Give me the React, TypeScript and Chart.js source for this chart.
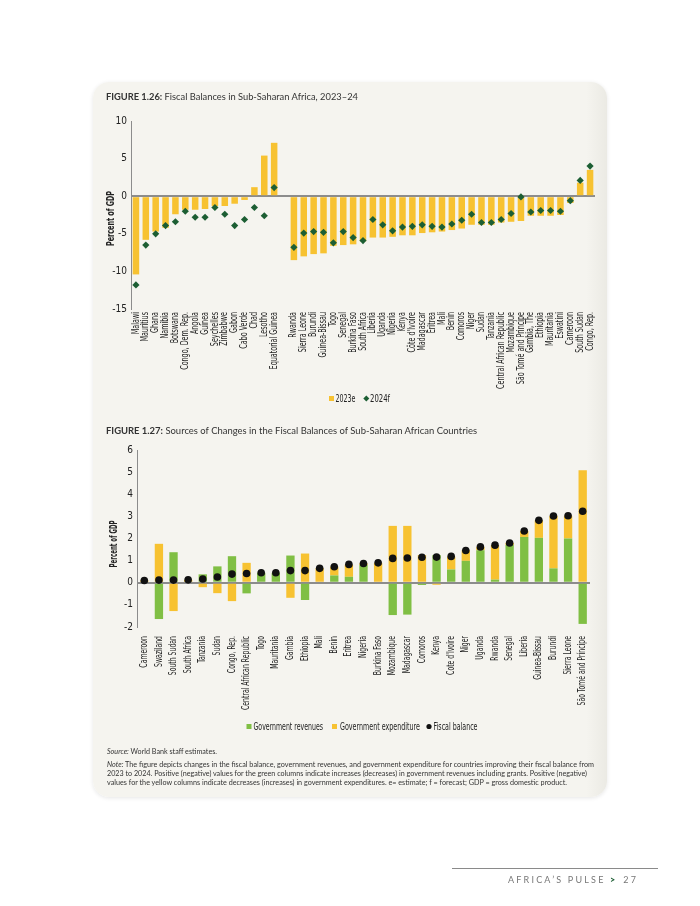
import React, { useEffect, useRef } from "react";
import { Chart, registerables } from "chart.js";

Chart.register(...registerables);

// ---------- Figure 1.26 data ----------
const countries1 = [
  "Malawi", "Mauritius", "Ghana", "Namibia", "Botswana", "Congo, Dem. Rep.", "Angola", "Guinea",
  "Seychelles", "Zimbabwe", "Gabon", "Cabo Verde", "Chad", "Lesotho", "Equatorial Guinea", "",
  "Rwanda", "Sierra Leone", "Burundi", "Guinea-Bissau", "Togo", "Senegal", "Burkina Faso",
  "South Africa", "Liberia", "Uganda", "Nigeria", "Kenya", "Côte d'Ivoire", "Madagascar", "Eritrea",
  "Mali", "Benin", "Comoros", "Niger", "Sudan", "Tanzania", "Central African Republic", "Mozambique",
  "São Tomé and Principe", "Gambia, The", "Ethiopia", "Mauritania", "Eswatini", "Cameroon",
  "South Sudan", "Congo, Rep.",
];
const balance2023e = [
  -10.4, -5.8, -4.7, -4.2, -2.4, -1.8, -1.8, -1.7, -1.3, -1.3, -1.0, -0.5, 1.2, 5.4, 7.1, null,
  -8.5, -8.0, -7.7, -7.6, -6.6, -6.5, -6.4, -6.0, -5.5, -5.5, -5.4, -5.2, -5.2, -4.9, -4.8,
  -4.7, -4.5, -4.3, -3.8, -3.8, -3.8, -3.5, -3.4, -3.3, -2.6, -2.6, -2.6, -2.5, -0.9, 1.8, 3.5,
];
const balance2024f = [
  -11.8, -6.5, -5.0, -3.9, -3.4, -2.0, -2.8, -2.8, -1.5, -2.4, -3.9, -3.1, -1.5, -2.6, 1.15, null,
  -6.8, -4.9, -4.7, -4.8, -6.2, -4.7, -5.5, -5.9, -3.1, -3.8, -4.6, -4.1, -4.0, -3.8, -4.0,
  -4.1, -3.7, -3.2, -2.4, -3.5, -3.5, -3.1, -2.3, -0.1, -2.1, -1.9, -1.9, -2.0, -0.6, 2.1, 4.0,
];
const yTicks1 = { min: -15, max: 10, step: 5 };

// ---------- Figure 1.27 data ----------
const countries2 = [
  "Cameroon", "Swaziland", "South Sudan", "South Africa", "Tanzania", "Sudan", "Congo, Rep.",
  "Central African Republic", "Togo", "Mauritania", "Gambia", "Ethiopia", "Mali", "Benin", "Eritrea",
  "Nigeria", "Burkina Faso", "Mozambique", "Madagascar", "Comoros", "Kenya", "Cote d'Ivoire", "Niger",
  "Uganda", "Rwanda", "Senegal", "Liberia", "Guinea-Bissau", "Burundi", "Sierra Leone",
  "São Tomé and Príncipe",
];
const govRevenues = [
  0.0, -1.64, 1.38, 0.05, 0.38, 0.74, 1.2, -0.48, 0.45, 0.45, 1.23, -0.78, 0.0, 0.33, 0.27,
  0.8, 0.0, -1.46, -1.44, -0.1, 1.25, 0.6, 0.99, 1.47, 0.14, 1.71, 2.07, 2.03, 0.65, 2.0, -1.86,
];
const govExpenditure = [
  0.1, 1.76, -1.28, 0.08, -0.2, -0.47, -0.83, 0.9, 0.0, 0.0, -0.68, 1.32, 0.65, 0.39, 0.55,
  0.07, 0.9, 2.57, 2.57, 1.25, -0.09, 0.58, 0.47, 0.15, 1.56, 0.09, 0.27, 0.79, 2.37, 1.03, 5.09,
];
const fiscalBalance = [
  0.1, 0.12, 0.12, 0.13, 0.17, 0.26, 0.39, 0.42, 0.45, 0.45, 0.55, 0.55, 0.65, 0.72, 0.83,
  0.87, 0.9, 1.1, 1.12, 1.15, 1.16, 1.19, 1.46, 1.62, 1.7, 1.8, 2.34, 2.82, 3.02, 3.03, 3.23,
];
const yTicks2 = { min: -2, max: 6, step: 1 };

// ---------- styles ----------
const COND = "'DejaVu Sans Condensed', 'Liberation Sans Narrow', 'DejaVu Sans', sans-serif";
const SANS = "Lato, 'Open Sans', Arial, sans-serif";
const YELLOW = "#f7c231";
const DKGREEN = "#1c5e33";
const LTGREEN = "#80bf44";
const AXIS = "#8c8c8c";
const TXT = "#222222";

const zeroGrid = {
  color: (c: any) => (c.tick && c.tick.value === 0 ? AXIS : "rgba(0,0,0,0)"),
  lineWidth: (c: any) => (c.tick && c.tick.value === 0 ? 2 : 1),
  drawTicks: false,
};

// Draws rotated category labels and the y-axis title in a narrow (condensed) style.
function condensedTextPlugin(o: {
  size: number;
  gap: number;
  refLen: number;
  titleX: number;
  titleY: number;
  titleLen: number;
}) {
  return {
    id: "condensedText",
    afterDraw(chart: any) {
      const ctx = chart.ctx as CanvasRenderingContext2D;
      const area = chart.chartArea;
      const xs = chart.scales.x;
      ctx.save();
      ctx.fillStyle = TXT;
      ctx.font = `${o.size}px ${COND}`;
      const k = o.refLen / ctx.measureText("Central African Republic").width;
      ctx.textAlign = "right";
      ctx.textBaseline = "middle";
      (chart.data.labels as string[]).forEach((lab, i) => {
        if (!lab) return;
        const x = xs.getPixelForValue(i);
        const w = ctx.measureText(lab).width;
        ctx.save();
        ctx.translate(x, area.bottom + o.gap);
        ctx.rotate(-Math.PI / 2);
        ctx.fillText(lab, 0, 0, w * k);
        ctx.restore();
      });
      ctx.font = `bold ${o.size}px ${COND}`;
      ctx.textAlign = "center";
      ctx.translate(o.titleX, o.titleY);
      ctx.rotate(-Math.PI / 2);
      ctx.fillText("Percent of GDP", 0, 0, o.titleLen);
      ctx.restore();
    },
  };
}

function Figure126() {
  const ref = useRef<HTMLCanvasElement>(null);
  useEffect(() => {
    const chart = new Chart(ref.current!, {
      type: "bar",
      data: {
        labels: countries1,
        datasets: [
          {
            type: "line",
            label: "2024f",
            data: balance2024f,
            showLine: false,
            pointStyle: "rectRot",
            pointRadius: 3.6,
            pointBackgroundColor: DKGREEN,
            pointBorderColor: DKGREEN,
            pointBorderWidth: 0,
            order: 1,
          } as any,
          {
            type: "bar",
            label: "2023e",
            data: balance2023e,
            backgroundColor: YELLOW,
            barPercentage: 0.66,
            categoryPercentage: 1,
            order: 2,
          },
        ],
      },
      options: {
        animation: false,
        responsive: false,
        layout: { padding: { top: 11, right: 12, left: 0, bottom: 0 } },
        plugins: { legend: { display: false }, tooltip: { enabled: false } },
        scales: {
          x: {
            offset: true,
            grid: { display: false, drawTicks: false },
            border: { display: false },
            ticks: { display: false, autoSkip: false },
            afterFit: (s: any) => {
              s.height = 90;
            },
          },
          y: {
            min: yTicks1.min,
            max: yTicks1.max,
            ticks: { stepSize: yTicks1.step, color: TXT, padding: 4, font: { family: COND, size: 10 } },
            grid: zeroGrid as any,
            border: { display: true, color: AXIS, width: 1 },
            afterFit: (s: any) => {
              s.width = 38;
            },
          },
        },
      },
      plugins: [condensedTextPlugin({ size: 10, gap: 3, refLen: 77, titleX: 18, titleY: 108.5, titleLen: 55 })],
    });
    return () => chart.destroy();
  }, []);
  return (
    <canvas
      ref={ref}
      width={514}
      height={289}
      style={{ position: "absolute", left: 93, top: 110, width: 514, height: 289 }}
    />
  );
}

function Figure127() {
  const ref = useRef<HTMLCanvasElement>(null);
  useEffect(() => {
    const chart = new Chart(ref.current!, {
      type: "bar",
      data: {
        labels: countries2,
        datasets: [
          {
            type: "line",
            label: "Fiscal balance",
            data: fiscalBalance,
            showLine: false,
            pointStyle: "circle",
            pointRadius: 3.8,
            pointBackgroundColor: "#111111",
            pointBorderColor: "#111111",
            pointBorderWidth: 0,
            order: 1,
          } as any,
          {
            type: "bar",
            label: "Government revenues",
            data: govRevenues,
            backgroundColor: LTGREEN,
            barPercentage: 0.57,
            categoryPercentage: 1,
            stack: "s",
            order: 2,
          },
          {
            type: "bar",
            label: "Government expenditure",
            data: govExpenditure,
            backgroundColor: YELLOW,
            barPercentage: 0.57,
            categoryPercentage: 1,
            stack: "s",
            order: 3,
          },
        ],
      },
      options: {
        animation: false,
        responsive: false,
        layout: { padding: { top: 9, right: 17, left: 0, bottom: 0 } },
        plugins: { legend: { display: false }, tooltip: { enabled: false } },
        scales: {
          x: {
            stacked: true,
            offset: true,
            grid: { display: false, drawTicks: false },
            border: { display: false },
            ticks: { display: false, autoSkip: false },
            afterFit: (s: any) => {
              s.height = 92;
            },
          },
          y: {
            stacked: true,
            min: yTicks2.min,
            max: yTicks2.max,
            ticks: { stepSize: yTicks2.step, color: TXT, padding: 4, font: { family: COND, size: 10 } },
            grid: zeroGrid as any,
            border: { display: true, color: AXIS, width: 1 },
            afterFit: (s: any) => {
              s.width = 44;
            },
          },
        },
      },
      plugins: [condensedTextPlugin({ size: 10, gap: 9, refLen: 74, titleX: 21, titleY: 104, titleLen: 47 })],
    });
    return () => chart.destroy();
  }, []);
  return (
    <canvas
      ref={ref}
      width={514}
      height={279}
      style={{ position: "absolute", left: 93, top: 440, width: 514, height: 279 }}
    />
  );
}

const legFont = { fontFamily: COND, fontSize: 10, fill: TXT } as const;
const noteFont = { fontFamily: SANS, fontSize: 7, fill: "#333" } as const;

export default function App() {
  return (
    <div style={{ position: "absolute", left: 0, top: 0, width: 700, height: 906, background: "#ffffff", overflow: "hidden" }}>
      <div
        style={{
          position: "absolute",
          left: 93,
          top: 82,
          width: 514,
          height: 715,
          borderRadius: 16,
          background: "linear-gradient(to right, #f5f4ef 0%, #f5f4ef 96%, #ebeae4 100%)",
          boxShadow: "0 1px 4px rgba(0,0,0,0.10)",
        }}
      />
      <Figure126 />
      <Figure127 />
      <svg
        width={700}
        height={906}
        style={{ position: "absolute", left: 0, top: 0, pointerEvents: "none" }}
      >
        {/* titles */}
        <text x={106} y={100.3} textLength={252} lengthAdjust="spacingAndGlyphs" style={{ fontFamily: SANS, fontSize: 9.3, fill: "#333" }}>
          <tspan fontWeight="bold">FIGURE 1.26:</tspan> Fiscal Balances in Sub-Saharan Africa, 2023–24
        </text>
        <text x={106} y={433.5} textLength={371} lengthAdjust="spacingAndGlyphs" style={{ fontFamily: SANS, fontSize: 9.3, fill: "#333" }}>
          <tspan fontWeight="bold">FIGURE 1.27:</tspan> Sources of Changes in the Fiscal Balances of Sub-Saharan African Countries
        </text>

        {/* legend 1.26 */}
        <rect x={329} y={396} width={5} height={5} fill={YELLOW} />
        <text x={335.5} y={402.3} textLength={20} lengthAdjust="spacingAndGlyphs" style={legFont}>2023e</text>
        <polygon points="366.3,395.5 369.3,398.5 366.3,401.5 363.3,398.5" fill={DKGREEN} />
        <text x={370} y={402.3} textLength={20} lengthAdjust="spacingAndGlyphs" style={legFont}>2024f</text>

        {/* legend 1.27 */}
        <rect x={246.5} y={724} width={5} height={5} fill={LTGREEN} />
        <text x={253.5} y={730} textLength={69.5} lengthAdjust="spacingAndGlyphs" style={legFont}>Government revenues</text>
        <rect x={332} y={724} width={5} height={5} fill={YELLOW} />
        <text x={340} y={730} textLength={80} lengthAdjust="spacingAndGlyphs" style={legFont}>Government expenditure</text>
        <circle cx={429} cy={726.5} r={2.6} fill="#111" />
        <text x={433.5} y={730} textLength={44} lengthAdjust="spacingAndGlyphs" style={legFont}>Fiscal balance</text>

        {/* source & note */}
        <text x={107} y={754} textLength={110} lengthAdjust="spacingAndGlyphs" style={noteFont}>
          <tspan fontStyle="italic">Source:</tspan> World Bank staff estimates.
        </text>
        <text x={107} y={767} textLength={487} lengthAdjust="spacingAndGlyphs" style={noteFont}>
          <tspan fontStyle="italic">Note:</tspan> The figure depicts changes in the fiscal balance, government revenues, and government expenditure for countries improving their fiscal balance from
        </text>
        <text x={107} y={776} textLength={480} lengthAdjust="spacingAndGlyphs" style={noteFont}>
          2023 to 2024. Positive (negative) values for the green columns indicate increases (decreases) in government revenues including grants. Positive (negative)
        </text>
        <text x={107} y={785} textLength={460} lengthAdjust="spacingAndGlyphs" style={noteFont}>
          values for the yellow columns indicate decreases (increases) in government expenditures. e= estimate; f = forecast; GDP = gross domestic product.
        </text>
      </svg>

      <div style={{ position: "absolute", left: 452, top: 868, width: 206, height: 1, background: "#8a8a8a" }} />
      <div style={{ position: "absolute", left: 508, top: 874, fontFamily: SANS, fontSize: 9, color: "#777", letterSpacing: 2.2, whiteSpace: "nowrap" }}>
        AFRICA’S PULSE <span style={{ color: DKGREEN, fontWeight: 900, letterSpacing: 0 }}>&gt;</span>
        <span style={{ marginLeft: 8 }}>27</span>
      </div>
    </div>
  );
}
